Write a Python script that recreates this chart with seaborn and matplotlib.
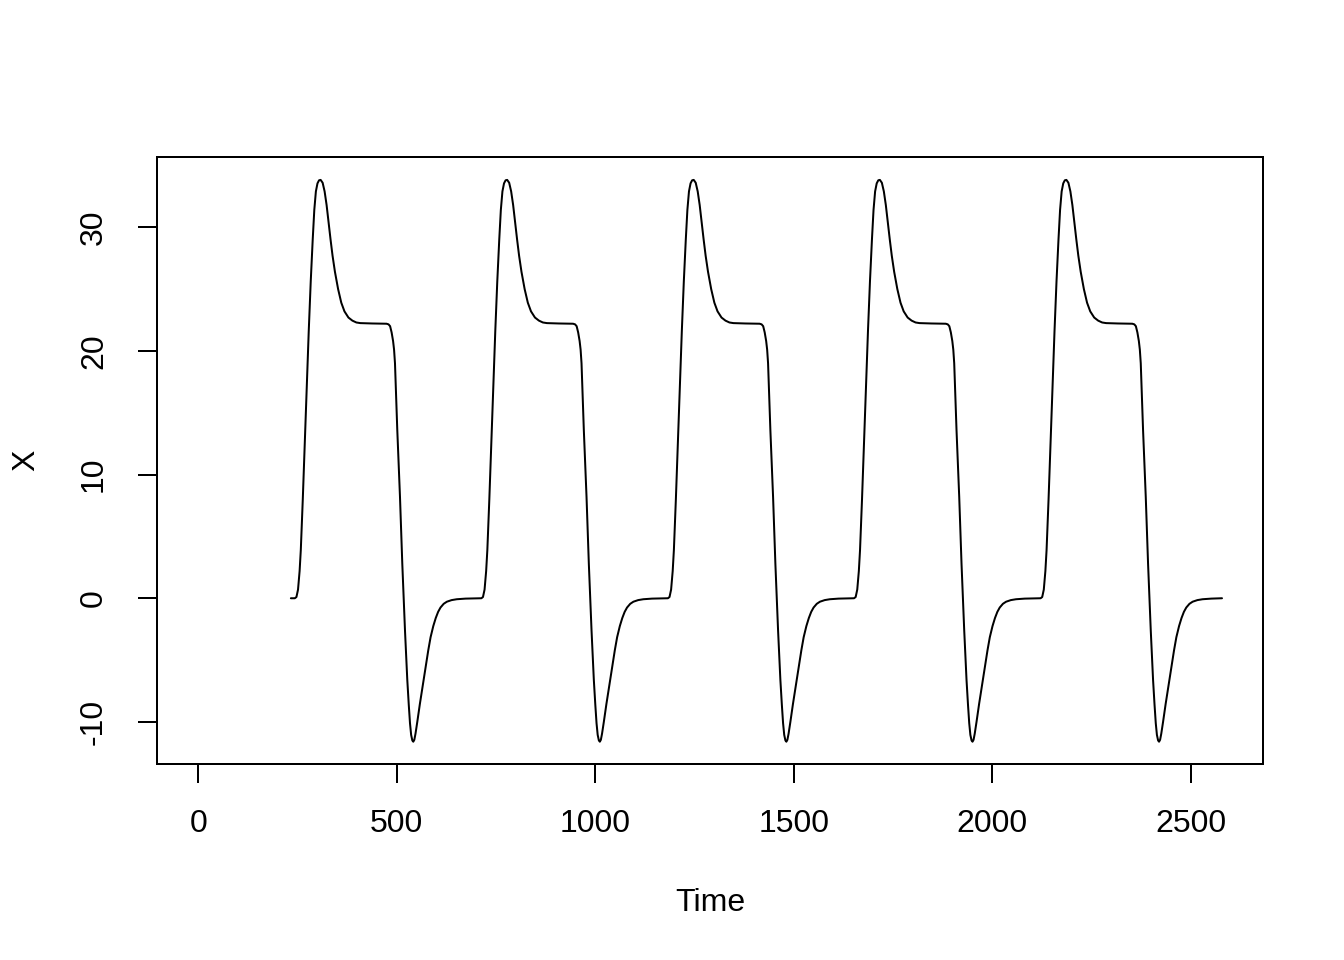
import numpy as np
import pandas as pd
import matplotlib
matplotlib.use("Agg")
import matplotlib.pyplot as plt
import seaborn as sns

# one cycle of the wave: time offset from the peak and X value
cycle_offset = [-65, -61, -57, -53, -50, -45, -40, -35, -30, -25, -20, -16, -12, -8, -4, 0,
                5, 10, 15, 20, 25, 30, 36, 44, 52, 60, 70, 80, 90, 100, 130, 166,
                171, 175, 178.8, 182.5, 185, 187.3, 190, 193.1, 199.9, 205.7, 212.5, 218.3, 222, 225.1,
                228, 231, 233.4, 236, 239, 243.5, 250, 258.6, 265, 271.2, 277, 283.8, 290, 296,
                302, 310, 318, 330, 343, 365]
cycle_x = [0.0, 0.1, 0.7, 2.2, 3.9, 8.0, 12.6, 17.3, 21.6, 25.6, 29.0, 31.4, 32.9, 33.55, 33.8, 33.83,
           33.6, 32.9, 31.8, 30.4, 29.0, 27.7, 26.4, 25.0, 23.9, 23.2, 22.7, 22.45, 22.3, 22.25, 22.22, 22.2,
           22.15, 22.0, 21.5, 20.8, 20.1, 19.0, 16.6, 13.6, 8.2, 2.8, -2.6, -6.6, -8.6, -10.1,
           -11.05, -11.5, -11.6, -11.45, -10.95, -10.0, -8.55, -6.8, -5.45, -4.2, -3.15, -2.25, -1.6, -1.1,
           -0.75, -0.45, -0.28, -0.15, -0.08, -0.03]

# times of the five peaks
peak_times = [308, 778, 1248, 1717, 2187]

# series starts/ends flat at zero
t_start, t_end = 233, 2579
# time axis of the ts (leading values are NA)
time_range = (0, 2580)

times = [t_start]
values = [0.0]
for p in peak_times:
    times += [p + o for o in cycle_offset]
    values += cycle_x
times.append(t_end)
values.append(0.0)

df = pd.DataFrame({"Time": times, "X": values})

sns.set_style("white")
plt.rcParams["font.family"] = ["Liberation Sans", "DejaVu Sans"]
plt.rcParams["axes.unicode_minus"] = False

fig = plt.figure(figsize=(7, 5), dpi=192)
ax = fig.add_axes([0.82 / 7, 1.02 / 5, 5.76 / 7, 3.16 / 5])

sns.lineplot(data=df, x="Time", y="X", color="black", linewidth=0.75,
             estimator=None, sort=False, ax=ax)

# R style 4% padding
xr = time_range[1] - time_range[0]
ax.set_xlim(time_range[0] - 0.04 * xr, time_range[1] + 0.04 * xr)
yr = max(values) - min(values)
ax.set_ylim(min(values) - 0.04 * yr, max(values) + 0.04 * yr)

ax.set_xticks([0, 500, 1000, 1500, 2000, 2500])
ax.set_yticks([-10, 0, 10, 20, 30])
ax.set_yticklabels(["-10", "0", "10", "20", "30"], rotation=90, va="center")

for s in ax.spines.values():
    s.set_visible(True)
    s.set_color("black")
    s.set_linewidth(0.75)

ax.tick_params(axis="both", direction="out", length=7.2, width=0.75, color="black",
               labelsize=12, labelcolor="black", bottom=True, left=True)
ax.tick_params(axis="x", pad=9.5)
ax.tick_params(axis="y", pad=11)

ax.set_xlabel("Time", fontsize=12, labelpad=18.5, color="black")
ax.set_ylabel("X", fontsize=12, labelpad=14, color="black")

fig.savefig("out.png", dpi=192, facecolor="white")
